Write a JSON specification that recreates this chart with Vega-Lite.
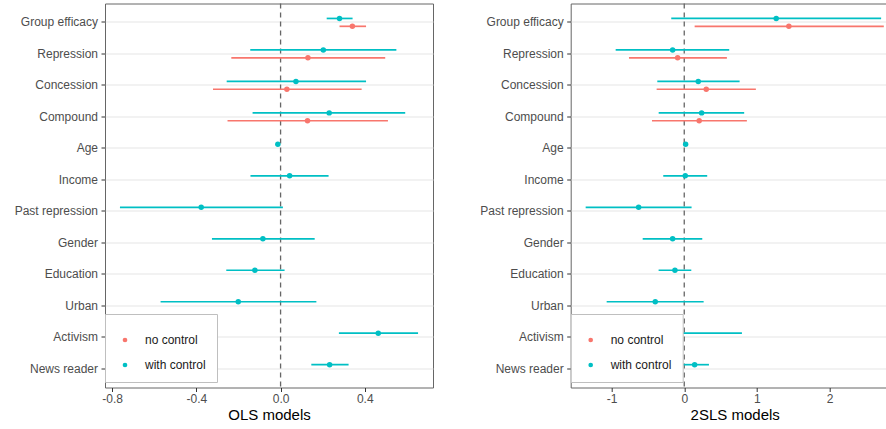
{
  "$schema": "https://vega.github.io/schema/vega-lite/v6.json",
  "padding": {"left": 0, "top": 1.5, "right": 0, "bottom": 0},
  "background": "white",
  "spacing": 31.7,
  "config": {
    "font": "Liberation Sans",
    "view": {"stroke": "#666666", "strokeWidth": 1},
    "axis": {
      "domain": false,
      "labelFont": "Liberation Sans",
      "labelFontSize": 12,
      "labelColor": "#4d4d4d",
      "tickColor": "#333333",
      "tickSize": 4,
      "tickWidth": 1,
      "gridColor": "#e6e6e6",
      "titleFont": "Liberation Sans",
      "titleFontSize": 15,
      "titleFontWeight": "normal",
      "titleColor": "#000000"
    },
    "legend": {"labelFont": "Liberation Sans"}
  },
  "datasets": {
    "ols": [
      {"var": "Group efficacy", "model": "with control", "est": 0.280, "lo": 0.219, "hi": 0.342},
      {"var": "Group efficacy", "model": "no control", "est": 0.341, "lo": 0.280, "hi": 0.406},
      {"var": "Repression", "model": "with control", "est": 0.203, "lo": -0.144, "hi": 0.550},
      {"var": "Repression", "model": "no control", "est": 0.130, "lo": -0.234, "hi": 0.497},
      {"var": "Concession", "model": "with control", "est": 0.073, "lo": -0.256, "hi": 0.406},
      {"var": "Concession", "model": "no control", "est": 0.030, "lo": -0.321, "hi": 0.385},
      {"var": "Compound", "model": "with control", "est": 0.231, "lo": -0.133, "hi": 0.592},
      {"var": "Compound", "model": "no control", "est": 0.128, "lo": -0.252, "hi": 0.510},
      {"var": "Age", "model": "with control", "est": -0.013, "lo": -0.018, "hi": -0.008},
      {"var": "Income", "model": "with control", "est": 0.043, "lo": -0.143, "hi": 0.228},
      {"var": "Past repression", "model": "with control", "est": -0.377, "lo": -0.763, "hi": 0.011},
      {"var": "Gender", "model": "with control", "est": -0.084, "lo": -0.326, "hi": 0.162},
      {"var": "Education", "model": "with control", "est": -0.122, "lo": -0.258, "hi": 0.019},
      {"var": "Urban", "model": "with control", "est": -0.201, "lo": -0.570, "hi": 0.170},
      {"var": "Activism", "model": "with control", "est": 0.464, "lo": 0.277, "hi": 0.653},
      {"var": "News reader", "model": "with control", "est": 0.233, "lo": 0.146, "hi": 0.323}
    ],
    "tsls": [
      {"var": "Group efficacy", "model": "with control", "est": 1.266, "lo": -0.179, "hi": 2.710},
      {"var": "Group efficacy", "model": "no control", "est": 1.440, "lo": 0.143, "hi": 2.747},
      {"var": "Repression", "model": "with control", "est": -0.160, "lo": -0.944, "hi": 0.619},
      {"var": "Repression", "model": "no control", "est": -0.091, "lo": -0.761, "hi": 0.587},
      {"var": "Concession", "model": "with control", "est": 0.193, "lo": -0.371, "hi": 0.762},
      {"var": "Concession", "model": "no control", "est": 0.303, "lo": -0.380, "hi": 0.986},
      {"var": "Compound", "model": "with control", "est": 0.239, "lo": -0.352, "hi": 0.825},
      {"var": "Compound", "model": "no control", "est": 0.206, "lo": -0.444, "hi": 0.862},
      {"var": "Age", "model": "with control", "est": 0.019, "lo": 0.005, "hi": 0.033},
      {"var": "Income", "model": "with control", "est": 0.014, "lo": -0.289, "hi": 0.316},
      {"var": "Past repression", "model": "with control", "est": -0.628, "lo": -1.357, "hi": 0.101},
      {"var": "Gender", "model": "with control", "est": -0.160, "lo": -0.572, "hi": 0.248},
      {"var": "Education", "model": "with control", "est": -0.128, "lo": -0.353, "hi": 0.097},
      {"var": "Urban", "model": "with control", "est": -0.399, "lo": -1.068, "hi": 0.267},
      {"var": "Activism", "model": "with control", "est": -0.150, "lo": -1.100, "hi": 0.794},
      {"var": "News reader", "model": "with control", "est": 0.143, "lo": -0.060, "hi": 0.340}
    ]
  },
  "resolve": {"legend": {"color": "independent"}, "scale": {"x": "independent", "color": "independent"}},
  "hconcat": [
    {
      "width": 328,
      "height": 384,
      "layer": [
        {
          "data": {"values": [{}]},
          "mark": {"type": "rule", "color": "#666666", "strokeDash": [5, 4], "strokeWidth": 1.3},
          "encoding": {"x": {"datum": 0, "type": "quantitative"}}
        },
        {
          "data": {"name": "ols"},
          "mark": {"type": "rule", "strokeWidth": 1.7},
          "encoding": {
            "y": {
              "field": "var", "type": "nominal",
              "sort": ["Group efficacy", "Repression", "Concession", "Compound", "Age", "Income", "Past repression", "Gender", "Education", "Urban", "Activism", "News reader"],
              "scale": {"paddingInner": 0, "paddingOuter": 0.1},
              "axis": {"title": null, "grid": true, "bandPosition": 0.5, "labelPadding": 3.5, "minExtent": 104, "maxExtent": 104, "gridWidth": 1.1}
            },
            "yOffset": {"field": "model", "type": "nominal", "scale": {"domain": ["with control", "no control"], "paddingInner": 0, "paddingOuter": 1.46}},
            "x": {
              "field": "lo", "type": "quantitative",
              "scale": {"domain": [-0.834, 0.724], "nice": false, "zero": false},
              "axis": {
                "title": "OLS models",
                "values": [-0.8, -0.6, -0.4, -0.2, 0, 0.2, 0.4, 0.6],
                "labelExpr": "round(datum.value*10)%4==0 ? (datum.value<0?'-':'') + format(abs(datum.value),'.1f') : ''",
                "labelOverlap": false,
                "labelFlush": false,
                "labelPadding": 2,
                "titlePadding": 3,
                "tickOpacity": {"condition": {"test": "round(datum.value*10)%4==0", "value": 1}, "value": 0},
                "gridWidth": {"condition": {"test": "round(datum.value*10)%4==0", "value": 1.1}, "value": 0.6}
              }
            },
            "x2": {"field": "hi"},
            "color": {"field": "model", "type": "nominal", "scale": {"domain": ["no control", "with control"], "range": ["#F8766D", "#00BFC4"]}}
          }
        },
        {
          "data": {"name": "ols"},
          "mark": {"type": "point", "filled": true, "size": 30, "opacity": 1},
          "encoding": {
            "y": {"field": "var", "type": "nominal", "sort": ["Group efficacy", "Repression", "Concession", "Compound", "Age", "Income", "Past repression", "Gender", "Education", "Urban", "Activism", "News reader"]},
            "yOffset": {"field": "model", "type": "nominal", "scale": {"domain": ["with control", "no control"], "paddingInner": 0, "paddingOuter": 1.46}},
            "x": {"field": "est", "type": "quantitative"},
            "color": {
              "field": "model", "type": "nominal",
              "scale": {"domain": ["no control", "with control"], "range": ["#F8766D", "#00BFC4"]},
              "legend": {
                "orient": "none", "legendX": 0, "legendY": 310.5,
                "title": " ", "titleFontSize": 7, "titlePadding": 2,
                "padding": 11, "strokeColor": "#bfbfbf", "fillColor": "white",
                "labelFontSize": 12, "labelColor": "#1a1a1a",
                "symbolType": "circle", "symbolSize": 22, "symbolStrokeWidth": 0,
                "rowPadding": 13, "symbolOffset": 3, "labelOffset": 14
              }
            }
          }
        }
      ]
    },
    {
      "width": 328,
      "height": 384,
      "layer": [
        {
          "data": {"values": [{}]},
          "mark": {"type": "rule", "color": "#666666", "strokeDash": [5, 4], "strokeWidth": 1.3},
          "encoding": {"x": {"datum": 0, "type": "quantitative"}}
        },
        {
          "data": {"name": "tsls"},
          "mark": {"type": "rule", "strokeWidth": 1.7},
          "encoding": {
            "y": {
              "field": "var", "type": "nominal",
              "sort": ["Group efficacy", "Repression", "Concession", "Compound", "Age", "Income", "Past repression", "Gender", "Education", "Urban", "Activism", "News reader"],
              "scale": {"paddingInner": 0, "paddingOuter": 0.1},
              "axis": {"title": null, "grid": true, "bandPosition": 0.5, "labelPadding": 3.5, "minExtent": 104, "maxExtent": 104, "gridWidth": 1.1}
            },
            "yOffset": {"field": "model", "type": "nominal", "scale": {"domain": ["with control", "no control"], "paddingInner": 0, "paddingOuter": 1.46}},
            "x": {
              "field": "lo", "type": "quantitative",
              "scale": {"domain": [-1.563, 2.952], "nice": false, "zero": false},
              "axis": {
                "title": "2SLS models",
                "values": [-1.5, -1, -0.5, 0, 0.5, 1, 1.5, 2, 2.5],
                "labelExpr": "round(datum.value*2)%2==0 ? (datum.value<0?'-':'') + format(abs(datum.value),'d') : ''",
                "labelOverlap": false,
                "labelFlush": false,
                "labelPadding": 2,
                "titlePadding": 3,
                "tickOpacity": {"condition": {"test": "round(datum.value*2)%2==0", "value": 1}, "value": 0},
                "gridWidth": {"condition": {"test": "round(datum.value*2)%2==0", "value": 1.1}, "value": 0.6}
              }
            },
            "x2": {"field": "hi"},
            "color": {"field": "model", "type": "nominal", "scale": {"domain": ["no control", "with control"], "range": ["#F8766D", "#00BFC4"]}}
          }
        },
        {
          "data": {"name": "tsls"},
          "mark": {"type": "point", "filled": true, "size": 30, "opacity": 1},
          "encoding": {
            "y": {"field": "var", "type": "nominal", "sort": ["Group efficacy", "Repression", "Concession", "Compound", "Age", "Income", "Past repression", "Gender", "Education", "Urban", "Activism", "News reader"]},
            "yOffset": {"field": "model", "type": "nominal", "scale": {"domain": ["with control", "no control"], "paddingInner": 0, "paddingOuter": 1.46}},
            "x": {"field": "est", "type": "quantitative"},
            "color": {
              "field": "model", "type": "nominal",
              "scale": {"domain": ["no control", "with control"], "range": ["#F8766D", "#00BFC4"]},
              "legend": {
                "orient": "none", "legendX": 0, "legendY": 310.5,
                "title": " ", "titleFontSize": 7, "titlePadding": 2,
                "padding": 11, "strokeColor": "#bfbfbf", "fillColor": "white",
                "labelFontSize": 12, "labelColor": "#1a1a1a",
                "symbolType": "circle", "symbolSize": 22, "symbolStrokeWidth": 0,
                "rowPadding": 13, "symbolOffset": 3, "labelOffset": 14
              }
            }
          }
        }
      ]
    }
  ]
}
